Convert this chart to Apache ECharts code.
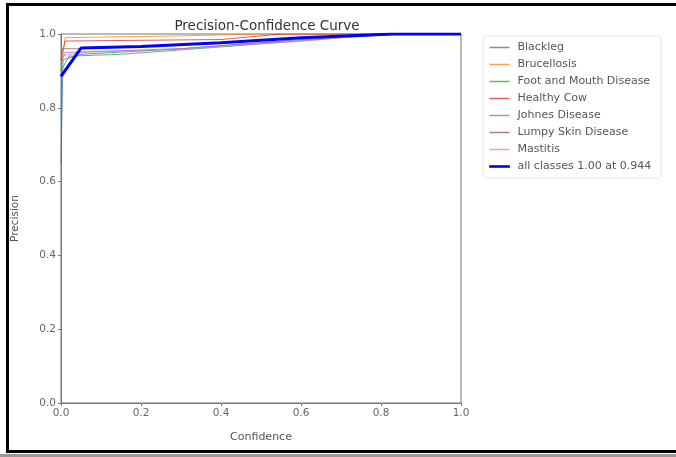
<!DOCTYPE html>
<html>
<head>
<meta charset="utf-8">
<script src="https://cdn.jsdelivr.net/npm/echarts@6/dist/echarts.min.js"></script>
<style>html,body{margin:0;padding:0;background:#fff}#c{width:676px;height:457px}</style>
</head>
<body>
<div id="c"></div>
<script>
const classNames = ['Blackleg','Brucellosis','Foot and Mouth Disease','Healthy Cow','Johnes Disease','Lumpy Skin Disease','Mastitis'];
const classColors = ['#1f77b4','#ff7f0e','#2ca02c','#d62728','#9467bd','#8c564b','#e377c2'];
const blackleg   = [[0,0.65],[0.005,0.93],[0.05,0.945],[0.3,0.96],[0.6,0.985],[0.85,1],[1,1]];
const brucellosis= [[0,0.9],[0.01,0.99],[0.3,0.995],[0.5,1],[1,1]];
const fmd        = [[0,0.9],[0.02,0.94],[0.15,0.945],[0.4,0.965],[0.7,0.99],[0.85,1],[1,1]];
const healthyCow = [[0,0.93],[0.01,0.981],[0.4,0.985],[0.55,1],[1,1]];
const johnes     = [[0,0.92],[0.01,0.95],[0.3,0.96],[0.6,0.985],[0.8,1],[1,1]];
const lumpy      = [[0,0.96],[0.05,0.96],[0.3,0.97],[0.6,0.99],[0.8,1],[1,1]];
const mastitis   = [[0,0.94],[0.05,0.95],[0.3,0.96],[0.6,0.98],[0.8,1],[1,1]];
const allClasses = [[0,0.885],[0.05,0.962],[0.2,0.966],[0.4,0.976],[0.6,0.99],[0.83,1],[1,1]];
const allLabel = 'all classes 1.00 at 0.944';
const classData = [blackleg, brucellosis, fmd, healthyCow, johnes, lumpy, mastitis];
const xTicks = [0,0.2,0.4,0.6,0.8,1.0];

const chart = echarts.init(document.getElementById('c'));
const font = 'DejaVu Sans';
const series = classNames.map((n,i)=>({
  name:n, type:'line', data:classData[i], symbol:'none', silent:true,
  lineStyle:{width:1, color:classColors[i], opacity:0.75}, itemStyle:{color:classColors[i], opacity:0.75}
}));
series.push({name:allLabel, type:'line', data:allClasses, symbol:'none', silent:true,
  lineStyle:{width:3, color:'#0000ff'}, itemStyle:{color:'#0000ff'}, z:5});

const legendData = classNames.map(n=>({name:n, icon:'rect'}));
legendData.push({name:allLabel, icon:'rect', itemStyle:{borderColor:'#0000ff', borderWidth:1}});

chart.setOption({
  animation:false,
  textStyle:{fontFamily:font},
  title:{text:'Precision-Confidence Curve', left:262, top:14, textAlign:'center',
    textStyle:{fontFamily:font, fontSize:13.5, fontWeight:'normal', color:'#333'}},
  grid:{left:61, right:215, top:34, bottom:54, show:true, borderColor:'#777', borderWidth:1,
    containLabel:false, outerBoundsMode:'none'},
  legend:{orient:'vertical', left:483, top:36, itemWidth:20, itemHeight:1.5, itemGap:6,
    padding:[6,10,6,6], borderColor:'#e4e4e4', borderWidth:1, borderRadius:2,
    textStyle:{fontFamily:font, fontSize:11, color:'#555', lineHeight:11, padding:[0,0,0,3]},
    data:legendData},
  xAxis:{type:'value', min:0, max:1, interval:0.2,
    name:'Confidence', nameLocation:'middle', nameGap:29, nameMoveOverlap:false,
    nameTextStyle:{fontFamily:font, fontSize:11, color:'#555'},
    axisLine:{lineStyle:{color:'#777'}}, axisTick:{show:true, length:3, lineStyle:{color:'#777'}},
    axisLabel:{fontFamily:font, fontSize:10.5, color:'#666', margin:5, formatter:v=>v.toFixed(1)},
    splitLine:{show:false}},
  yAxis:{type:'value', min:0, max:1, interval:0.2,
    name:'Precision', nameLocation:'middle', nameGap:40, nameMoveOverlap:false,
    nameTextStyle:{fontFamily:font, fontSize:10.5, color:'#555'},
    axisLine:{show:true, lineStyle:{color:'#777'}}, axisTick:{show:true, length:3, lineStyle:{color:'#777'}},
    axisLabel:{fontFamily:font, fontSize:10.5, color:'#666', margin:5, formatter:v=>v.toFixed(1)},
    splitLine:{show:false}},
  graphic:[
    {type:'rect', shape:{x:7.5, y:4.5, width:700, height:447}, style:{fill:'none', stroke:'#000', lineWidth:3}, silent:true},
    {type:'rect', shape:{x:0, y:454, width:676, height:3}, style:{fill:'#999'}, silent:true}
  ],
  series:series
});
</script>
</body>
</html>
